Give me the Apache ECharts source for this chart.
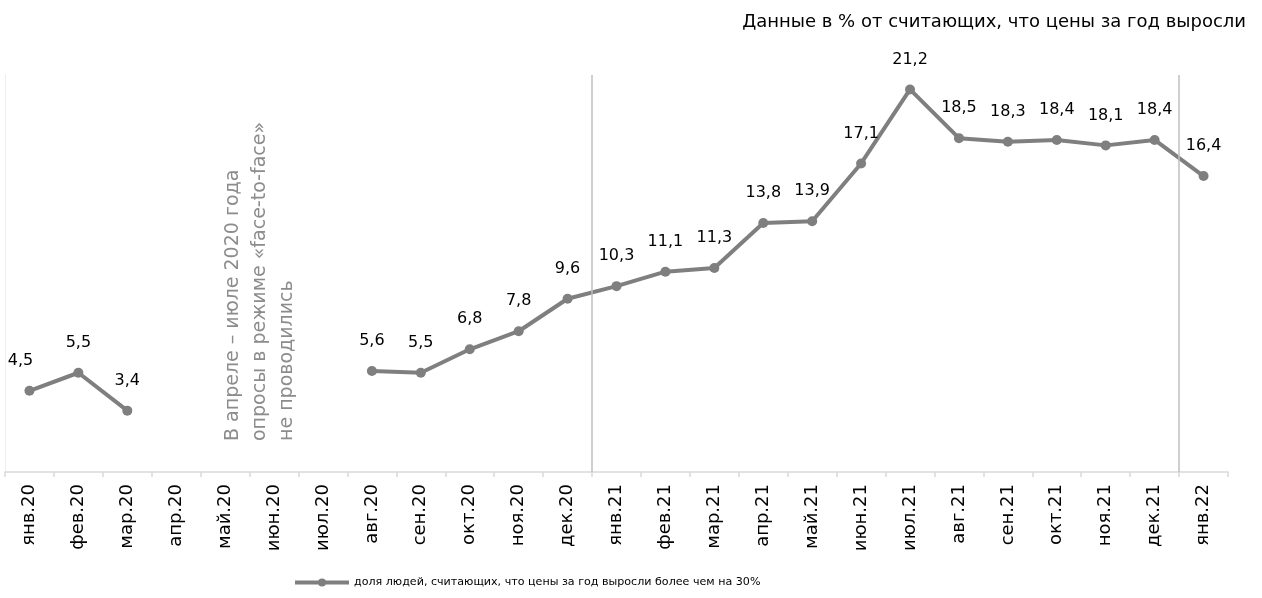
<!DOCTYPE html>
<html>
<head>
<meta charset="utf-8">
<script src="https://cdn.jsdelivr.net/npm/echarts@6/dist/echarts.min.js"></script>
<style>
  html, body { margin: 0; padding: 0; background: #fff; }
  #chart { width: 1262px; height: 598px; }
</style>
</head>
<body>
<div id="chart"></div>
<script>
// months, Jan 2020 - Jan 2022
var months = ["янв.20", "фев.20", "мар.20", "апр.20", "май.20", "июн.20", "июл.20",
  "авг.20", "сен.20", "окт.20", "ноя.20", "дек.20",
  "янв.21", "фев.21", "мар.21", "апр.21", "май.21", "июн.21", "июл.21",
  "авг.21", "сен.21", "окт.21", "ноя.21", "дек.21", "янв.22"];

// share of people who think prices rose by more than 30% (no surveys apr-jul 2020)
var shareValues = [4.5, 5.5, 3.4, null, null, null, null,
  5.6, 5.5, 6.8, 7.8, 9.6,
  10.3, 11.1, 11.3, 13.8, 13.9, 17.1, 21.2,
  18.5, 18.3, 18.4, 18.1, 18.4, 16.4];

// year separators: drawn on the left edge of these categories
var yearStarts = [12, 24];

var seriesName = "доля людей, считающих, что цены за год выросли более чем на 30%";
var titleText = "Данные в % от считающих, что цены за год выросли";
var noteText = "В апреле – июле 2020 года\nопросы в режиме «face-to-face»\nне проводились";

var font = "DejaVu Sans, Liberation Sans, Arial, sans-serif";
var grey = "#7f7f7f";

// first label is pushed left a bit, like in the original
var lineData = shareValues.map(function (v, i) {
  if (i === 0) return { value: v, label: { offset: [-9, 0] } };
  return v;
});

var chart = echarts.init(document.getElementById("chart"));
chart.setOption({
  animation: false,
  title: {
    text: titleText,
    right: 11,
    top: 8,
    textStyle: {
      fontFamily: font,
      fontSize: 18,
      fontWeight: "normal",
      color: "#000"
    }
  },
  legend: {
    data: [seriesName],
    left: 293,
    top: 577,
    padding: 0,
    itemWidth: 54,
    itemHeight: 10,
    lineStyle: { width: 4 },
    textStyle: {
      fontFamily: font,
      fontSize: 11.1,
      color: "#000"
    }
  },
  grid: {
    left: 5,
    right: 34,
    top: 75,
    bottom: 126
  },
  xAxis: [
    {
      type: "category",
      data: months,
      boundaryGap: true,
      axisLine: {
        lineStyle: { color: "#d9d9d9", width: 1.5 }
      },
      axisTick: {
        show: true,
        length: 5,
        lineStyle: { color: "#d9d9d9", width: 1.5 }
      },
      axisLabel: {
        interval: 0,
        rotate: 90,
        margin: 12,
        fontFamily: font,
        fontSize: 18,
        color: "#000"
      },
      splitLine: { show: false }
    },
    {
      // hidden helper axis so the separators can sit between months
      type: "value",
      min: -0.5,
      max: months.length - 0.5,
      show: false
    }
  ],
  yAxis: {
    type: "value",
    min: 0,
    max: 22,
    axisLine: {
      show: true,
      onZero: false,
      lineStyle: { color: "#eeeeee" }
    },
    axisTick: { show: false },
    axisLabel: { show: false },
    splitLine: { show: false }
  },
  graphic: [
    {
      type: "text",
      x: 220,
      y: 441,
      rotation: Math.PI / 2,
      style: {
        text: noteText,
        fontFamily: font,
        fontSize: 19,
        lineHeight: 27,
        fill: "#8c8c8c",
        textAlign: "left",
        textVerticalAlign: "top"
      }
    }
  ],
  series: [
    {
      name: seriesName,
      type: "line",
      data: lineData,
      connectNulls: false,
      symbol: "circle",
      symbolSize: 10,
      color: grey,
      lineStyle: { width: 4, color: grey },
      itemStyle: { color: grey },
      label: {
        show: true,
        position: "top",
        distance: 17,
        fontFamily: font,
        fontSize: 16,
        color: "#000",
        formatter: function (p) {
          return p.value == null ? "" : p.value.toFixed(1).replace(".", ",");
        }
      }
    },
    {
      name: "separators",
      type: "line",
      xAxisIndex: 1,
      data: [],
      silent: true,
      markLine: {
        symbol: "none",
        silent: true,
        animation: false,
        label: { show: false },
        lineStyle: { color: "#bfbfbf", width: 1.5, type: "solid" },
        data: yearStarts.map(function (i) {
          return { xAxis: i - 0.5 };
        })
      }
    }
  ]
});
</script>
</body>
</html>
